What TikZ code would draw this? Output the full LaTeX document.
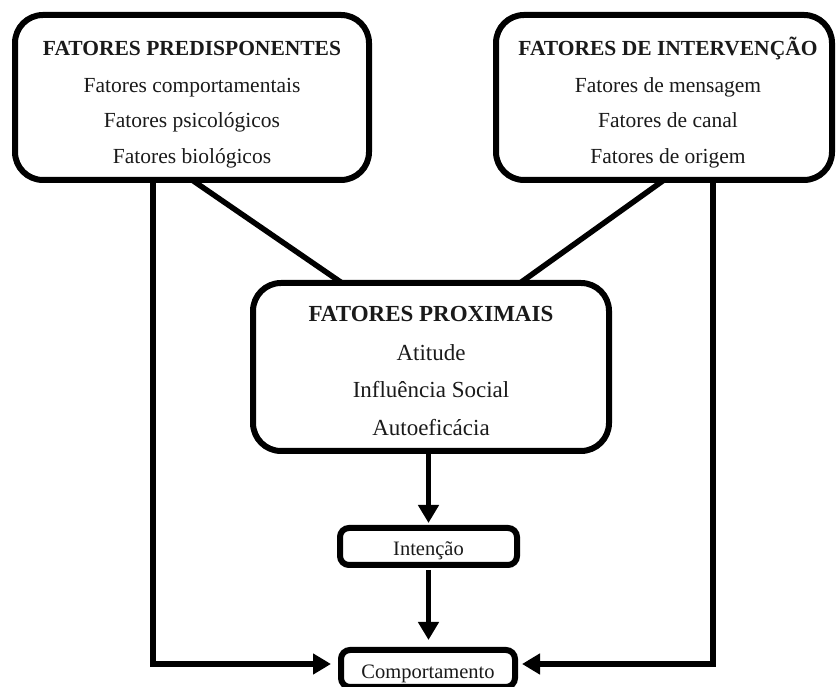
\documentclass[tikz,border=0pt]{standalone}
\usepackage{fontspec}
\setmainfont{Liberation Serif}
\usetikzlibrary{arrows.meta,calc}
\definecolor{ink}{HTML}{1A1A1A}
\begin{document}
\begin{tikzpicture}[x=1pt,y=1pt,
  bigbox/.style={draw=black,line width=6pt,rounded corners=28pt,inner sep=0pt,outer sep=0pt},
  smallbox/.style={draw=black,line width=6pt,rounded corners=9pt,inner sep=0pt,outer sep=0pt},
  ttl/.style={anchor=base,font=\fontsize{21.5}{21.5}\selectfont\bfseries,text=ink,inner sep=0pt},
  txt/.style={anchor=base,font=\fontsize{21.5}{21.5}\selectfont,text=ink,inner sep=0pt},
  ttlm/.style={anchor=base,font=\fontsize{23}{23}\selectfont\bfseries,text=ink,inner sep=0pt},
  txtm/.style={anchor=base,font=\fontsize{23}{23}\selectfont,text=ink,inner sep=0pt},
  txts/.style={anchor=base,font=\fontsize{20.5}{20.5}\selectfont,text=ink,inner sep=0pt},
  conn/.style={draw=black,line width=5.5pt},
  arr/.style={conn,-{Triangle[length=18pt,width=20pt]}}]
\useasboundingbox (0,0) rectangle (840,687);
\fill[white] (0,0) rectangle (840,687);

% boxes (outer edges measured; path = outer - line width)
\node[bigbox,minimum width=354pt,minimum height=165pt] (pre) at (192,589.5) {};
\node[bigbox,minimum width=336pt,minimum height=165pt] (int) at (664,589.5) {};
\node[bigbox,minimum width=356pt,minimum height=168pt] (prox) at (431,320) {};
\node[smallbox,minimum width=177pt,minimum height=37pt] (inten) at (428.5,140.5) {};
\node[smallbox,minimum width=174pt,minimum height=37pt] (comp) at (428,18.5) {};

% texts
\node[ttl] (preT) at (192,631) {FATORES PREDISPONENTES};
\node[txt] (preA) at (192,594) {Fatores comportamentais};
\node[txt] (preB) at (192,559) {Fatores psicológicos};
\node[txt] (preC) at (192,523) {Fatores biológicos};

\node[ttl] (intT) at (668,631) {FATORES DE INTERVENÇÃO};
\node[txt] (intA) at (668,594) {Fatores de mensagem};
\node[txt] (intB) at (668,559) {Fatores de canal};
\node[txt] (intC) at (668,523) {Fatores de origem};

\node[ttlm] (proxT) at (431,365) {FATORES PROXIMAIS};
\node[txtm] (proxA) at (431,326) {Atitude};
\node[txtm] (proxB) at (431,289) {Influência Social};
\node[txtm] (proxC) at (431,251) {Autoeficácia};

\node[txts] (intenT) at (428.5,131) {Intenção};
\node[txts] (compT) at (428,8) {Comportamento};

% helper coordinates
\coordinate (cL) at (153,23);
\coordinate (cR) at (713,23);

% connectors
\draw[conn] (pre.south) -- ($(prox.north west)!0.25!(prox.north east)$);
\draw[conn] (int.south) -- ($(prox.north west)!0.75!(prox.north east)$);
\draw[arr,shorten >=5pt] (inten.north |- prox.south) -- (inten.north);
\draw[arr,shorten <=5pt,shorten >=10pt] (inten.south) -- (inten.south |- comp.north);
\draw[arr,shorten >=10pt] (pre.south -| cL) -- (cL) -- (cL -| comp.west);
\draw[arr,shorten >=7pt] (int.south -| cR) -- (cR) -- (cR -| comp.east);
\end{tikzpicture}
\end{document}
